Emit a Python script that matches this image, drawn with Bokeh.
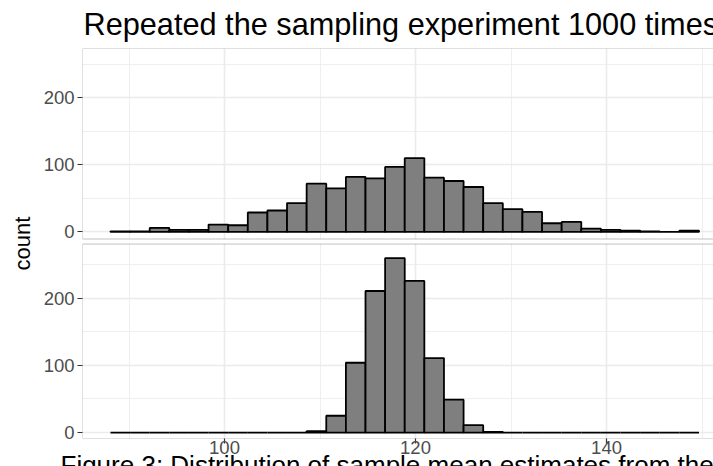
from bokeh.plotting import figure
from bokeh.models import FixedTicker, BoxAnnotation, Title, Range1d, ColumnDataSource
from bokeh.embed import file_html
from bokeh.resources import INLINE

# ---------------- data ----------------
bin_start = 88.06
bin_width = 2.054
counts_top = [1, 1, 6, 3, 3, 11, 10, 29, 32, 43, 72, 65, 82, 80, 97,
              110, 81, 76, 67, 43, 34, 30, 13, 15, 5, 3, 2, 1, 0, 2]
counts_bottom = [0, 0, 0, 0, 0, 0, 0, 0, 0, 0, 2, 25, 104, 211, 260,
                 226, 111, 49, 11, 1, 0, 0, 0, 0, 0, 0, 0, 0, 0, 0]
x_ticks = [100, 120, 140]
x_minor = [90, 110, 130, 150]
y_ticks = [0, 100, 200]
y_minor = [50, 150, 250]
title_text = "Repeated the sampling experiment 1000 times"
caption_text = "Figure 3: Distribution of sample mean estimates from the 1000 samples"
y_label = "count"

# facet layout (unified y units): top panel drawn with an offset
top_offset = 299
bottom_panel_top = 281.0
top_panel_bottom = 288.5
x_start, x_end = 85.13, 151.2

FONT = "Liberation Sans"

n = len(counts_top)
lefts = [bin_start + i * bin_width for i in range(n)]
rights = [l + bin_width for l in lefts]

src_top = ColumnDataSource(dict(left=lefts, right=rights,
                                top=[c + top_offset for c in counts_top],
                                bottom=[top_offset] * n))
src_bot = ColumnDataSource(dict(left=lefts, right=rights,
                                top=counts_bottom, bottom=[0] * n))

p = figure(width=713, height=466, output_backend="svg", toolbar_location=None,
           x_range=Range1d(x_start, x_end), y_range=Range1d(-8.9, 572.5),
           min_border_left=82, min_border_right=0, min_border_top=47,
           min_border_bottom=28, title=title_text)

p.title.text_font = FONT
p.title.text_font_size = "30.7px"
p.title.text_font_style = "normal"
p.title.text_color = "black"
p.title.offset = 1
p.title.standoff = 11
p.title.vertical_align = "middle"

p.outline_line_color = None
p.background_fill_color = "white"
p.border_fill_color = "white"

# axes
xt = FixedTicker(ticks=x_ticks, minor_ticks=x_minor)
yt_vals = y_ticks + [v + top_offset for v in y_ticks]
yt_minor = y_minor + [v + top_offset for v in y_minor]
yt = FixedTicker(ticks=yt_vals, minor_ticks=yt_minor)

p.xaxis.ticker = xt
p.yaxis.ticker = yt
p.xgrid.ticker = xt
p.ygrid.ticker = yt
p.yaxis.major_label_overrides = {v: str(v - top_offset) if v >= top_offset else str(v)
                                 for v in yt_vals}

for ax in (p.xaxis[0], p.yaxis[0]):
    ax.axis_line_color = None
    ax.major_tick_in = 0
    ax.major_tick_out = 5
    ax.major_tick_line_color = "#333333"
    ax.major_tick_line_width = 1.2
    ax.minor_tick_line_color = None
    ax.major_label_text_font = FONT
    ax.major_label_text_font_size = "18.5px"
    ax.major_label_text_color = "#4d4d4d"
    ax.major_label_standoff = 3
p.xaxis.major_label_standoff = -3

p.yaxis.axis_label = y_label
p.yaxis.axis_label_text_font = FONT
p.yaxis.axis_label_text_font_size = "22px"
p.yaxis.axis_label_text_font_style = "normal"
p.yaxis.axis_label_text_color = "black"
p.yaxis.axis_label_standoff = 6

for g in (p.xgrid[0], p.ygrid[0]):
    g.grid_line_color = "#ebebeb"
    g.grid_line_width = 1.6
    g.minor_grid_line_color = "#ebebeb"
    g.minor_grid_line_width = 0.8

# bars
bar_kw = dict(fill_color="#7f7f7f", line_color="black", line_width=1.8)
p.quad(left="left", right="right", top="top", bottom="bottom", source=src_top, **bar_kw)
p.quad(left="left", right="right", top="top", bottom="bottom", source=src_bot, **bar_kw)

# facet gap and panel borders (panels continue past the right edge)
p.add_layout(BoxAnnotation(bottom=bottom_panel_top, top=top_panel_bottom,
                           fill_color="white", fill_alpha=1.0, line_color=None))
p.add_layout(BoxAnnotation(bottom=top_panel_bottom, right=x_end + 5,
                           fill_color=None, fill_alpha=0,
                           line_color="#333333", line_width=1))
p.add_layout(BoxAnnotation(top=bottom_panel_top, right=x_end + 5,
                           fill_color=None, fill_alpha=0,
                           line_color="#333333", line_width=1))

# caption below the x axis (cut by the bottom edge, as in the reference)
cap = Title(text=caption_text, align="left", offset=-22, standoff=-46,
            vertical_align="bottom", text_font=FONT, text_font_size="26px",
            text_font_style="normal", text_color="black")
p.add_layout(cap, "below")

open("out.html", "w").write(file_html(p, INLINE))
